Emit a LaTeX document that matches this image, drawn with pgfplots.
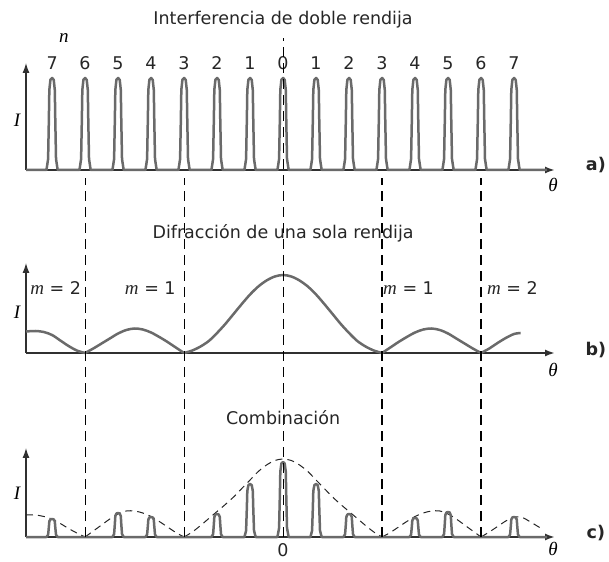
\documentclass[border=0pt]{standalone}
\usepackage{pgfplots}
\pgfplotsset{compat=1.18}
\usetikzlibrary{arrows.meta}
\usepackage{fontspec}
\setmainfont{DejaVu Sans}
\newfontfamily\serif{Liberation Serif}
\definecolor{curve}{HTML}{6A6A6A}
\definecolor{axisc}{HTML}{303030}
\newcommand\lab{\fontsize{17.5}{20}\selectfont\color{black!85}}
\newcommand\vlab[1]{{\fontsize{19}{22}\selectfont\serif\itshape #1}}
\pgfplotsset{
 panel/.style={
  scale only axis, width=529pt, xmin=-7.79, xmax=8.242, ymin=0,
  axis lines=left, xtick=\empty, ytick=\empty, clip=false,
  x axis line style={line width=2pt, color=axisc, -{Latex[length=10pt,width=7pt]}},
  y axis line style={line width=1.3pt, color=axisc, -{Latex[length=10pt,width=7pt]}},
  anchor=south west,
 },
 dat/.style={color=curve, line width=2.5pt, line join=round, no marks},
 env/.style={color=black!85, line width=1pt, dash pattern=on 7pt off 5pt, no marks, smooth},
}
\begin{document}
\begin{tikzpicture}
\useasboundingbox (0pt,0pt) rectangle (609pt,561pt);
% ---------------- panel a
\begin{axis}[panel, at={(26pt,391pt)}, height=107pt, ymax=107]
\addplot[dat] coordinates {
(-7.79,0)
(-7.17,0)(-7.12,11)(-7.097,50.6)(-7.083,80)(-7.05,90.2)(-7,92)(-6.95,90.2)(-6.917,80)(-6.903,50.6)(-6.88,11)(-6.83,0)
(-6.17,0)(-6.12,11)(-6.097,50.6)(-6.083,80)(-6.05,90.2)(-6,92)(-5.95,90.2)(-5.917,80)(-5.903,50.6)(-5.88,11)(-5.83,0)
(-5.17,0)(-5.12,11)(-5.097,50.6)(-5.083,80)(-5.05,90.2)(-5,92)(-4.95,90.2)(-4.917,80)(-4.903,50.6)(-4.88,11)(-4.83,0)
(-4.17,0)(-4.12,11)(-4.097,50.6)(-4.083,80)(-4.05,90.2)(-4,92)(-3.95,90.2)(-3.917,80)(-3.903,50.6)(-3.88,11)(-3.83,0)
(-3.17,0)(-3.12,11)(-3.097,50.6)(-3.083,80)(-3.05,90.2)(-3,92)(-2.95,90.2)(-2.917,80)(-2.903,50.6)(-2.88,11)(-2.83,0)
(-2.17,0)(-2.12,11)(-2.097,50.6)(-2.083,80)(-2.05,90.2)(-2,92)(-1.95,90.2)(-1.917,80)(-1.903,50.6)(-1.88,11)(-1.83,0)
(-1.17,0)(-1.12,11)(-1.097,50.6)(-1.083,80)(-1.05,90.2)(-1,92)(-0.95,90.2)(-0.917,80)(-0.903,50.6)(-0.88,11)(-0.83,0)
(-0.17,0)(-0.12,11)(-0.097,50.6)(-0.083,80)(-0.05,90.2)(0,92)(0.05,90.2)(0.083,80)(0.097,50.6)(0.12,11)(0.17,0)
(0.83,0)(0.88,11)(0.903,50.6)(0.917,80)(0.95,90.2)(1,92)(1.05,90.2)(1.083,80)(1.097,50.6)(1.12,11)(1.17,0)
(1.83,0)(1.88,11)(1.903,50.6)(1.917,80)(1.95,90.2)(2,92)(2.05,90.2)(2.083,80)(2.097,50.6)(2.12,11)(2.17,0)
(2.83,0)(2.88,11)(2.903,50.6)(2.917,80)(2.95,90.2)(3,92)(3.05,90.2)(3.083,80)(3.097,50.6)(3.12,11)(3.17,0)
(3.83,0)(3.88,11)(3.903,50.6)(3.917,80)(3.95,90.2)(4,92)(4.05,90.2)(4.083,80)(4.097,50.6)(4.12,11)(4.17,0)
(4.83,0)(4.88,11)(4.903,50.6)(4.917,80)(4.95,90.2)(5,92)(5.05,90.2)(5.083,80)(5.097,50.6)(5.12,11)(5.17,0)
(5.83,0)(5.88,11)(5.903,50.6)(5.917,80)(5.95,90.2)(6,92)(6.05,90.2)(6.083,80)(6.097,50.6)(6.12,11)(6.17,0)
(6.83,0)(6.88,11)(6.903,50.6)(6.917,80)(6.95,90.2)(7,92)(7.05,90.2)(7.083,80)(7.097,50.6)(7.12,11)(7.17,0)
(8.0,0)
};
\node at (axis cs:0,150) {\lab Interferencia de doble rendija};
\node at (axis cs:-6.64,132) {\vlab{n}};
\node at (axis cs:-7,107) {\lab 7};
\node at (axis cs:-6,107) {\lab 6};
\node at (axis cs:-5,107) {\lab 5};
\node at (axis cs:-4,107) {\lab 4};
\node at (axis cs:-3,107) {\lab 3};
\node at (axis cs:-2,107) {\lab 2};
\node at (axis cs:-1,107) {\lab 1};
\node at (axis cs:0,107) {\lab 0};
\node at (axis cs:1,107) {\lab 1};
\node at (axis cs:2,107) {\lab 2};
\node at (axis cs:3,107) {\lab 3};
\node at (axis cs:4,107) {\lab 4};
\node at (axis cs:5,107) {\lab 5};
\node at (axis cs:6,107) {\lab 6};
\node at (axis cs:7,107) {\lab 7};
\node at (axis cs:-8.06,50) {\vlab{I}};
\node at (axis cs:8.18,-15) {\vlab{θ}};
\node at (axis cs:9.48,5) {\lab\bfseries a)};
\end{axis}
% ---------------- panel b
\begin{axis}[panel, at={(26pt,208pt)}, height=90pt, ymax=90]
\addplot[dat, smooth] coordinates {(-7.79,21.5)(-7.5,22)(-7.25,21)(-7.0,18)(-6.75,12.5)(-6.5,7)(-6.25,2.5)(-6,0)};
\addplot[dat, smooth] coordinates {(-6,0)(-5.75,4.5)(-5.5,9.5)(-5.25,14.5)(-5,19.5)(-4.75,23)(-4.5,24.5)(-4.25,23.5)(-4,20.5)(-3.75,16)(-3.5,11)(-3.25,5.5)(-3,0)};
\addplot[dat, smooth] coordinates {(-3,0)(-2.75,2.5)(-2.5,6.5)(-2.25,12)(-2,20)(-1.75,29)(-1.5,39)(-1.25,49)(-1,58.5)(-0.75,66.5)(-0.5,72.5)(-0.25,76.5)(0,78)(0.25,76.5)(0.5,72.5)(0.75,66.5)(1,58.5)(1.25,49)(1.5,39)(1.75,29)(2,20)(2.25,12)(2.5,6.5)(2.75,2.5)(3,0)};
\addplot[dat, smooth] coordinates {(3,0)(3.25,5.5)(3.5,11)(3.75,16)(4,20.5)(4.25,23.5)(4.5,24.5)(4.75,23)(5,19.5)(5.25,14.5)(5.5,9.5)(5.75,4.5)(6,0)};
\addplot[dat, smooth] coordinates {(6,0)(6.25,4.5)(6.5,10)(6.75,15)(7.0,19)(7.2,20)};
\node at (axis cs:0,120) {\lab Difracción de una sola rendija};
\node[anchor=east, inner sep=0pt] at (axis cs:-6.12,65) {\lab\vlab{m} = 2};
\node[anchor=east, inner sep=0pt] at (axis cs:-3.25,65) {\lab\vlab{m} = 1};
\node[anchor=west, inner sep=0pt] at (axis cs:3.03,65) {\lab\vlab{m} = 1};
\node[anchor=west, inner sep=0pt] at (axis cs:6.18,65) {\lab\vlab{m} = 2};
\node at (axis cs:-8.06,41) {\vlab{I}};
\node at (axis cs:8.18,-17) {\vlab{θ}};
\node at (axis cs:9.48,3) {\lab\bfseries b)};
\end{axis}
% ---------------- panel c
\begin{axis}[panel, at={(26pt,24pt)}, height=89pt, ymax=89]
\addplot[env] coordinates {(-7.79,22)(-7.5,22)(-7.25,20.5)(-7,18)(-6.75,13.5)(-6.5,8.5)(-6.25,4)(-6,0)};
\addplot[env] coordinates {(-6,0)(-5.75,6)(-5.5,12)(-5.25,18)(-5,23)(-4.75,26)(-4.5,26)(-4.25,24)(-4,20.5)(-3.75,15.5)(-3.5,10)(-3.25,4.5)(-3,0)};
\addplot[env] coordinates {(-3,0)(-2.75,5)(-2.5,11.5)(-2.25,18.5)(-2,25.5)(-1.75,32.5)(-1.5,40)(-1.25,48.5)(-1,57)(-0.75,65.5)(-0.5,72)(-0.25,76.5)(0,78)(0.25,76.5)(0.5,72)(0.75,65.5)(1,57)(1.25,48.5)(1.5,40)(1.75,32.5)(2,25.5)(2.25,18.5)(2.5,11.5)(2.75,5)(3,0)};
\addplot[env] coordinates {(3,0)(3.25,4.5)(3.5,10)(3.75,15.5)(4,20.5)(4.25,24)(4.5,26)(4.75,26)(5,23)(5.25,18)(5.5,12)(5.75,6)(6,0)};
\addplot[env] coordinates {(6,0)(6.25,5)(6.5,10.5)(6.75,16)(7,20)(7.25,19.5)(7.5,15)(7.8,9)};
\addplot[dat] coordinates {
(-7.79,0)
(-7.17,0)(-7.12,2.2)(-7.097,9.9)(-7.083,15.7)(-7.05,17.6)(-7,18)(-6.95,17.6)(-6.917,15.7)(-6.903,9.9)(-6.88,2.2)(-6.83,0)
(-5.17,0)(-5.12,2.9)(-5.097,13.2)(-5.083,20.9)(-5.05,23.5)(-5,24)(-4.95,23.5)(-4.917,20.9)(-4.903,13.2)(-4.88,2.9)(-4.83,0)
(-4.17,0)(-4.12,2.4)(-4.097,11)(-4.083,17.4)(-4.05,19.6)(-4,20)(-3.95,19.6)(-3.917,17.4)(-3.903,11)(-3.88,2.4)(-3.83,0)
(-2.17,0)(-2.12,2.8)(-2.097,12.7)(-2.083,20)(-2.05,22.5)(-2,23)(-1.95,22.5)(-1.917,20)(-1.903,12.7)(-1.88,2.8)(-1.83,0)
(-1.17,0)(-1.12,6.4)(-1.097,29.2)(-1.083,46.1)(-1.05,51.9)(-1,53)(-0.95,51.9)(-0.917,46.1)(-0.903,29.2)(-0.88,6.4)(-0.83,0)
(-0.17,0)(-0.12,9)(-0.097,41.3)(-0.083,65.3)(-0.05,73.5)(0,75)(0.05,73.5)(0.083,65.3)(0.097,41.3)(0.12,9)(0.17,0)
(0.83,0)(0.88,6.4)(0.903,29.2)(0.917,46.1)(0.95,51.9)(1,53)(1.05,51.9)(1.083,46.1)(1.097,29.2)(1.12,6.4)(1.17,0)
(1.83,0)(1.88,2.8)(1.903,12.7)(1.917,20)(1.95,22.5)(2,23)(2.05,22.5)(2.083,20)(2.097,12.7)(2.12,2.8)(2.17,0)
(3.83,0)(3.88,2.3)(3.903,10.5)(3.917,16.5)(3.95,18.6)(4,19)(4.05,18.6)(4.083,16.5)(4.097,10.5)(4.12,2.3)(4.17,0)
(4.83,0)(4.88,3)(4.903,13.8)(4.917,21.8)(4.95,24.5)(5,25)(5.05,24.5)(5.083,21.8)(5.097,13.8)(5.12,3)(5.17,0)
(6.83,0)(6.88,2.4)(6.903,11)(6.917,17.4)(6.95,19.6)(7,20)(7.05,19.6)(7.083,17.4)(7.097,11)(7.12,2.4)(7.17,0)
(8.0,0)
};
\draw[black, line width=1.1pt, dash pattern=on 10pt off 6pt] (axis cs:-6,0) -- (axis cs:-6,359);
\draw[black, line width=1.1pt, dash pattern=on 10pt off 6pt] (axis cs:-3,0) -- (axis cs:-3,359);
\draw[black, line width=1.1pt, dash pattern=on 10pt off 6pt] (axis cs:3,0) -- (axis cs:3,359);
\draw[black, line width=1.1pt, dash pattern=on 10pt off 6pt] (axis cs:6,0) -- (axis cs:6,359);
\draw[black, line width=1.1pt, dash pattern=on 10pt off 6pt] (axis cs:0,0) -- (axis cs:0,499);
\node at (axis cs:0,119) {\lab Combinación};
\node at (axis cs:-8.06,44) {\vlab{I}};
\node at (axis cs:0,-13) {\lab 0};
\node at (axis cs:8.18,-12) {\vlab{θ}};
\node at (axis cs:9.48,4) {\lab\bfseries c)};
\end{axis}
\end{tikzpicture}
\end{document}
